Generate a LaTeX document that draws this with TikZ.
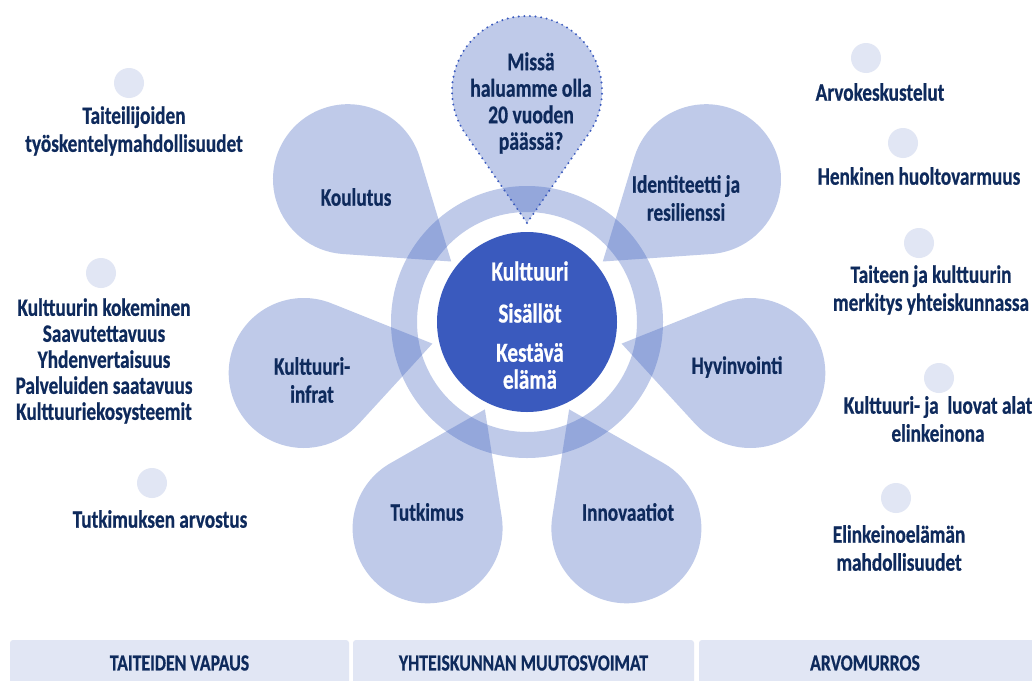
\documentclass[tikz,border=0pt]{standalone}
\usepackage{fontspec}
\setmainfont{Carlito}[FakeStretch=0.77, BoldFeatures={FakeBold=0.6}]
\definecolor{petal}{HTML}{3D61BF}
\definecolor{core}{HTML}{3A5ABE}
\definecolor{ink}{HTML}{0E2A5C}
\definecolor{pale}{HTML}{E1E6F4}
\begin{document}
\begin{tikzpicture}[x=1pt,y=1pt,
  petalfill/.style={fill=petal, fill opacity=0.33},
  dotline/.style={draw=core, line width=2.2pt, dash pattern=on 0pt off 5.6pt, line cap=round},
  lbl/.style={text=ink, font=\bfseries\fontsize{25}{28}\selectfont, align=center, inner sep=0pt},
  corelbl/.style={text=white, font=\bfseries\fontsize{27.5}{27}\selectfont, align=center, inner sep=0pt},
  barlbl/.style={text=ink, font=\bfseries\fontsize{23}{24}\selectfont, inner sep=0pt},
  dotc/.style={circle, fill=pale, minimum size=30pt, inner sep=0pt},
  bar/.style={fill=pale, rounded corners=3pt}]
\useasboundingbox (0,0) rectangle (1032,-680);
\fill[white] (0,0) rectangle (1032,-680);

% ring
\path[petalfill, even odd rule] (527,-322) circle[radius=136] (527,-322) circle[radius=110];

% petals (circle r=75, tip at 132 from circle centre)
\foreach \cx/\cy/\rot in {706.0/-179.2/218.57, 750.3/-373.0/167.14, 626.4/-528.3/115.71,
                          427.6/-528.3/64.29, 303.7/-373.0/12.86, 348.0/-179.2/321.43}{
  \path[petalfill, shift={(\cx,\cy)}, rotate=\rot]
    (132,0) -- (55.37:75) arc[start angle=55.37, end angle=304.63, radius=75] -- cycle;
}
% dotted petal
\path[petalfill, shift={(527,-91)}, rotate=270]
    (132,0) -- (55.37:75) arc[start angle=55.37, end angle=304.63, radius=75] -- cycle;
\path[dotline, shift={(527,-91)}, rotate=270]
    (132,0) -- (55.37:75) arc[start angle=55.37, end angle=304.63, radius=75] -- cycle;

% core
\node[circle, fill=core, minimum size=180pt, inner sep=0pt] (core) at (527,-322) {};
\node[corelbl] (c1) at (530,-271) {Kulttuuri};
\node[corelbl] (c2) at (530,-313) {Sisällöt};
\node[corelbl] (c3) at (530,-366) {Kestävä\\elämä};

% petal labels
\node[lbl, font=\bfseries\fontsize{25.5}{26.5}\selectfont] (q) at (531,-103) {Missä\\haluamme olla\\20 vuoden\\päässä?};
\node[lbl] (p1) at (686,-198) {Identiteetti ja\\resilienssi};
\node[lbl] (p2) at (737,-367) {Hyvinvointi};
\node[lbl] (p3) at (628,-512) {Innovaatiot};
\node[lbl] (p4) at (427,-512) {Tutkimus};
\node[lbl] (p5) at (312,-380) {Kulttuuri-\\infrat};
\node[lbl] (p6) at (356,-197) {Koulutus};

% small circles
\node[dotc] (d1) at (129,-83) {};
\node[dotc] (d2) at (101,-273) {};
\node[dotc] (d3) at (152,-483) {};
\node[dotc] (d4) at (866,-58) {};
\node[dotc] (d5) at (903,-143) {};
\node[dotc] (d6) at (919,-243) {};
\node[dotc] (d7) at (939,-378) {};
\node[dotc] (d8) at (896,-498) {};

% side texts
\node[lbl] (l1) at (134,-131) {Taiteilijoiden\\työskentelymahdollisuudet};
\node[lbl, font=\bfseries\fontsize{25}{26}\selectfont] (l2) at (104,-361) {Kulttuurin kokeminen\\Saavutettavuus\\Yhdenvertaisuus\\Palveluiden saatavuus\\Kulttuuriekosysteemit};
\node[lbl] (l3) at (160,-519) {Tutkimuksen arvostus};
\node[lbl] (r1) at (880,-92) {Arvokeskustelut};
\node[lbl] (r2) at (919,-176) {Henkinen huoltovarmuus};
\node[lbl] (r3) at (931,-290) {Taiteen ja kulttuurin\\merkitys yhteiskunnassa};
\node[lbl] (r4) at (938,-419) {Kulttuuri- ja\ \ luovat alat\\elinkeinona};
\node[lbl] (r5) at (899,-548) {Elinkeinoelämän\\mahdollisuudet};

% bottom bars
\path[bar] (10,-640) rectangle (349,-690);
\path[bar] (353,-640) rectangle (694,-690);
\path[bar] (699,-640) rectangle (1040,-690);
\node[barlbl] (b1) at (179.5,-663) {TAITEIDEN VAPAUS};
\node[barlbl] (b2) at (523.5,-663) {YHTEISKUNNAN MUUTOSVOIMAT};
\node[barlbl] (b3) at (865,-663) {ARVOMURROS};
\end{tikzpicture}
\end{document}
